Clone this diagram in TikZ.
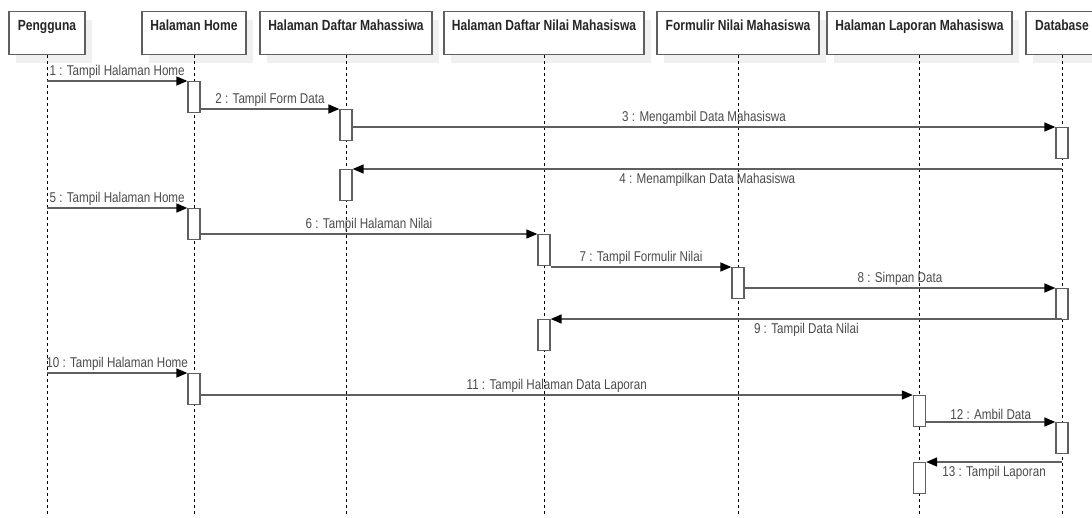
\documentclass[tikz,border=0pt]{standalone}
\usepackage{fontspec}
\setmainfont{Liberation Sans}[FakeStretch=0.82]
\usetikzlibrary{arrows.meta,shadows}
\definecolor{linegray}{HTML}{5F5F5F}
\definecolor{textgray}{HTML}{4A4A4A}
\tikzset{>={Triangle[length=11pt,width=9pt,color=black]}}
\tikzset{
  head/.style={draw=linegray, line width=1.3pt, fill=white, anchor=north,
    minimum height=43pt, inner xsep=0pt, inner ysep=4pt, text height=15pt, text depth=20pt,
    font=\fontsize{14.7}{16}\selectfont\bfseries, text=black!85,
    general shadow={fill=black!6, shadow xshift=7pt, shadow yshift=-8pt}},
  life/.style={black, line width=0.9pt, dash pattern=on 3pt off 3pt},
  act/.style={draw=linegray, line width=1.3pt, fill=white, anchor=north,
    minimum width=12pt, minimum height=31pt, inner sep=0pt},
  msg/.style={draw=linegray, line width=1.6pt, ->},
  lbl/.style={font=\fontsize{14.2}{16}\selectfont, text=textgray, inner sep=2pt},
  lblb/.style={lbl, inner ysep=3.5pt}
}

\begin{document}
\begin{tikzpicture}[x=1pt,y=-1pt]
  \useasboundingbox (0,0) rectangle (1092,517);
  \clip (0,0) rectangle (1092,517);

  % objects
  \node[head, minimum width=76pt]  (pengguna) at (47,11)    {Pengguna};
  \node[head, minimum width=104pt] (home)     at (194,11)   {Halaman Home};
  \node[head, minimum width=172pt] (daftar)   at (346,11)   {Halaman Daftar Mahassiwa};
  \node[head, minimum width=200pt] (nilai)    at (544,11)   {Halaman Daftar Nilai Mahasiswa};
  \node[head, minimum width=162pt] (formulir) at (738,11)   {Formulir Nilai Mahasiswa};
  \node[head, minimum width=185pt] (laporan)  at (919.5,11) {Halaman Laporan Mahasiswa};
  \node[head, minimum width=72pt]  (db)       at (1062,11)  {Database};

  % lifelines
  \foreach \obj in {pengguna,home,daftar,nilai,formulir,laporan,db}
    \draw[life] (\obj.south) -- (\obj.south |- 0,517);

  % activations
  \node[act] (aHome1)   at (home |- 0,81)     {};
  \node[act] (aDaftar1) at (daftar |- 0,109)  {};
  \node[act] (aDb1)     at (db |- 0,127)      {};
  \node[act] (aDaftar2) at (daftar |- 0,169)  {};
  \node[act] (aHome2)   at (home |- 0,208)    {};
  \node[act] (aNilai1)  at (nilai |- 0,234)   {};
  \node[act] (aForm1)   at (formulir |- 0,267){};
  \node[act] (aDb2)     at (db |- 0,288)      {};
  \node[act] (aNilai2)  at (nilai |- 0,319)   {};
  \node[act] (aHome3)   at (home |- 0,373)    {};
  \node[act] (aLap1)    at (laporan |- 0,395) {};
  \node[act] (aDb3)     at (db |- 0,422)      {};
  \node[act] (aLap2)    at (laporan |- 0,462) {};

  % messages
  \draw[msg] (pengguna |- aHome1.north) -- node[lbl, above] (t1) {1 : Tampil Halaman Home} (aHome1.north west);
  \draw[msg] (aHome1.east |- aDaftar1.north) -- node[lbl, above] (t2) {2 : Tampil Form Data} (aDaftar1.north west);
  \draw[msg] (aDaftar1.east |- aDb1.north) -- node[lbl, above] (t3) {3 : Mengambil Data Mahasiswa} (aDb1.north west);
  \draw[msg] (db |- aDaftar2.north) -- node[lblb, below] (t4) {4 : Menampilkan Data Mahasiswa} (aDaftar2.north east);
  \draw[msg] (pengguna |- aHome2.north) -- node[lbl, above] (t5) {5 : Tampil Halaman Home} (aHome2.north west);
  \draw[msg] (aHome2.east |- aNilai1.north) -- node[lbl, above] (t6) {6 : Tampil Halaman Nilai} (aNilai1.north west);
  \draw[msg] (aNilai1.east |- aForm1.north) -- node[lbl, above] (t7) {7 : Tampil Formulir Nilai} (aForm1.north west);
  \draw[msg] (aForm1.east |- aDb2.north) -- node[lbl, above] (t8) {8 : Simpan Data} (aDb2.north west);
  \draw[msg] (db |- aNilai2.north) -- node[lblb, below] (t9) {9 : Tampil Data Nilai} (aNilai2.north east);
  \draw[msg] (pengguna |- aHome3.north) -- node[lbl, above] (t10) {10 : Tampil Halaman Home} (aHome3.north west);
  \draw[msg] (aHome3.east |- aLap1.north) -- node[lbl, above] (t11) {11 : Tampil Halaman Data Laporan} (aLap1.north west);
  \draw[msg] (aLap1.east |- aDb3.north) -- node[lbl, above] (t12) {12 : Ambil Data} (aDb3.north west);
  \draw[msg] (db |- aLap2.north) -- node[lblb, below] (t13) {13 : Tampil Laporan} (aLap2.north east);
\end{tikzpicture}
\end{document}
